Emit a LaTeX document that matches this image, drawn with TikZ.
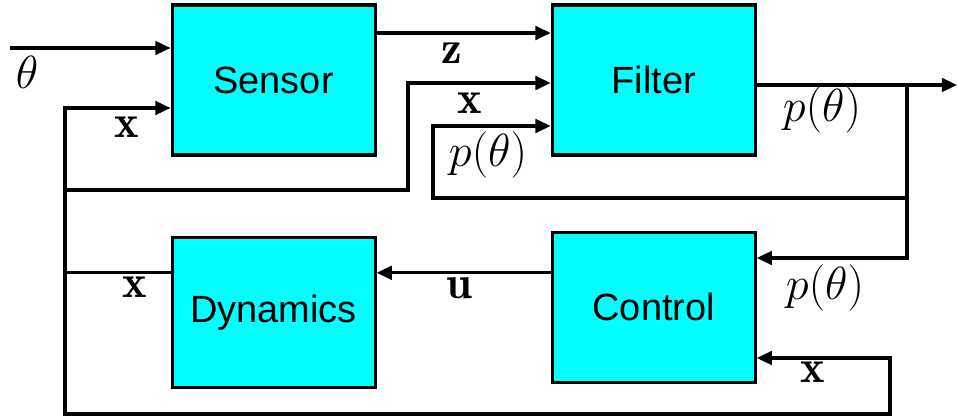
\RequirePackage{fix-cm}
\documentclass[tikz,border=0pt]{standalone}
\usepackage{fontspec}
\setsansfont{Liberation Sans}
\usetikzlibrary{arrows.meta,positioning}
\definecolor{boxfill}{HTML}{00FFFF}
\tikzset{
  blockbox/.style={draw=black,fill=boxfill,line width=2.2pt,minimum width=5.075cm,minimum height=3.75cm,inner sep=0pt,font=\sffamily\fontsize{27}{32}\selectfont},
  sig/.style={line width=2.2pt,draw=black},
  sigarrow/.style={sig,-{Triangle[length=0.38cm,width=0.34cm]}},
  sigboth/.style={sig,{Triangle[length=0.38cm,width=0.34cm]}-{Triangle[length=0.38cm,width=0.34cm]}},
  siglabel/.style={font=\fontsize{33}{39}\selectfont,inner sep=0pt}
}
\begin{document}
\begin{tikzpicture}
  \useasboundingbox (0,0) rectangle (23.925,10.45);

  % blocks
  \node[blockbox] (sensor) at (6.84,8.45) {Sensor};
  \node[blockbox,right=4.35cm of sensor] (filter) {Filter};
  \node[blockbox,below=1.98cm of sensor] (dyn) {Dynamics};
  \node[blockbox,below=1.85cm of filter] (ctrl) {Control};

  % bends and free ends
  \coordinate (thetain) at (0.25,9.25);
  \coordinate (zline) at (11.5,9.625);
  \coordinate (xbus) at (1.625,7.75);
  \coordinate (xbusbot) at (1.625,0.1);
  \coordinate (xtap) at (1.625,5.7);
  \coordinate (xrise) at (10.2,8.375);
  \coordinate (pdrop) at (22.675,5.5);
  \coordinate (pback) at (10.825,7.3);
  \coordinate (pjoin) at (22.675,8.325);
  \coordinate (pout) at (23.925,8.325);
  \coordinate (pctrl) at (20.5,4.0);
  \coordinate (uline) at (11.5,3.63);
  \coordinate (xturn) at (22.25,1.5);

  % top row
  \draw[sigarrow] (thetain) -- (thetain -| sensor.west);
  \draw[sigarrow] (sensor.east |- zline) -- (filter.west |- zline);
  \draw[sigarrow] (xtap) -| (xrise) -- (xrise -| filter.west);
  \draw[sigarrow] (pdrop) -| (pback) -- (pback -| filter.west);
  \draw[sigarrow] (filter.east |- pout) -- (pout);
  \draw[sigarrow] (pjoin) |- (ctrl.east |- pctrl);

  % bottom row
  \draw[sigarrow] (ctrl.west |- uline) -- (dyn.east |- uline);
  \draw[sig] (dyn.west |- uline) -- (xbus |- uline);
  \draw[sigboth] (sensor.west |- xbus) -| (xbusbot) -| (xturn) -- (ctrl.east |- xturn);

  % labels
  \node[siglabel] (thetalab) at (0.675,8.65) {$\theta$};
  \node[siglabel] (xsenslab) at (3.175,7.275) {$\mathbf{x}$};
  \node[siglabel] (zlab) at (11.3,9.125) {$\mathbf{z}$};
  \node[siglabel] (xfiltlab) at (11.75,7.875) {$\mathbf{x}$};
  \node[siglabel] (pfiltlab) at (12.2,6.575) {$p(\theta)$};
  \node[siglabel] (poutlab) at (20.55,7.7) {$p(\theta)$};
  \node[siglabel] (pctrllab) at (20.625,3.25) {$p(\theta)$};
  \node[siglabel] (xctrllab) at (20.33,1.15) {$\mathbf{x}$};
  \node[siglabel] (ulab) at (11.475,3.25) {$\mathbf{u}$};
  \node[siglabel] (xdynlab) at (3.375,3.275) {$\mathbf{x}$};
\end{tikzpicture}
\end{document}
